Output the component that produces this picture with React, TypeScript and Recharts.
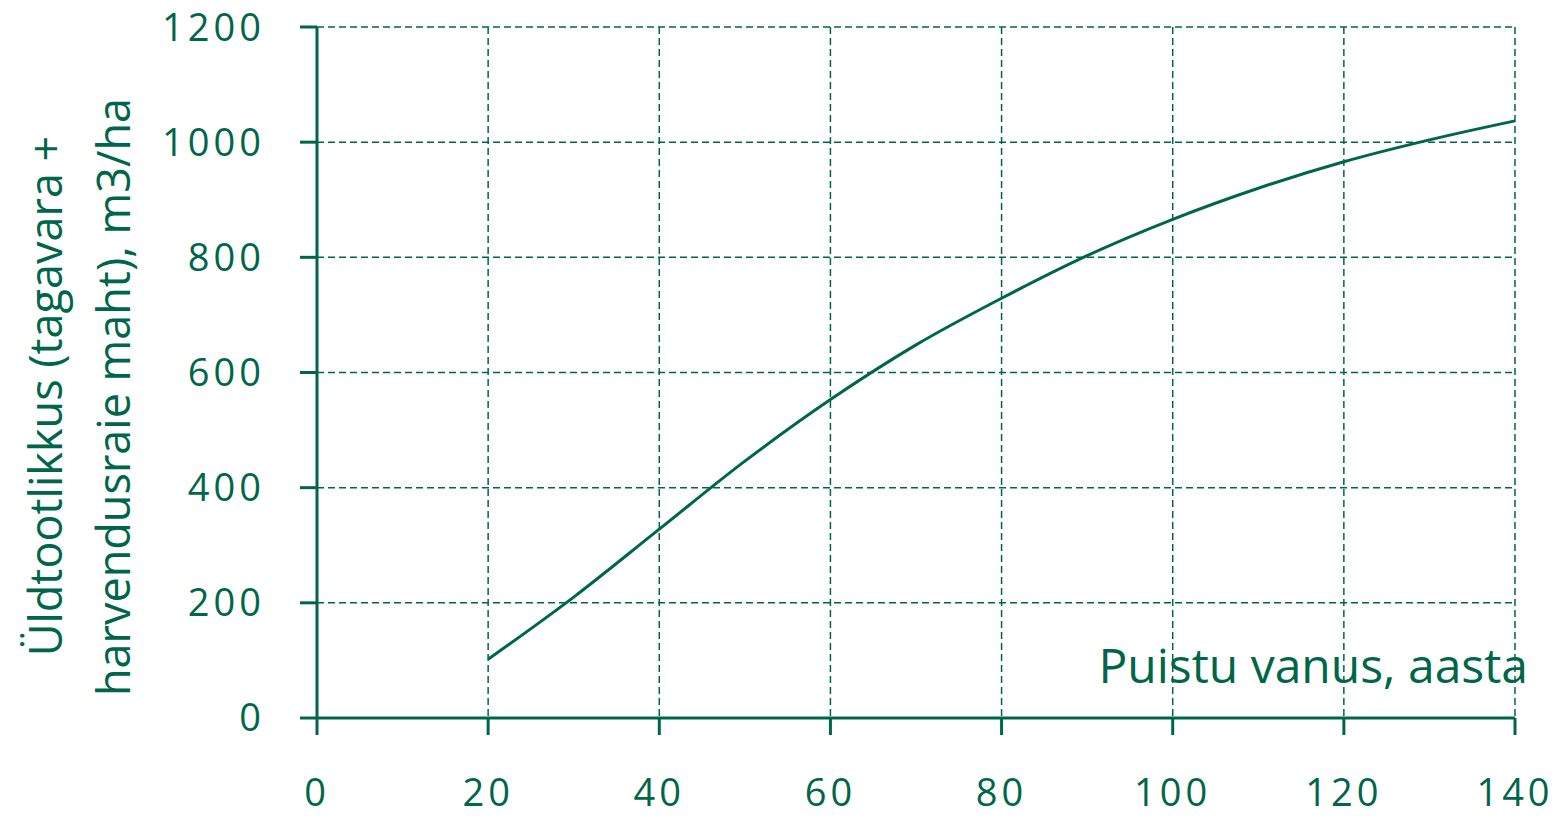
import { LineChart, Line, XAxis, YAxis, CartesianGrid } from 'recharts';

const GREEN = '#00664a';
const FONT = "'Open Sans', sans-serif";

const ages = [20, 30, 40, 50, 60, 70, 80, 90, 100, 110, 120, 130, 140];
const volumes = [102, 210, 328, 446, 553, 648, 729, 803, 866, 920, 966, 1004, 1037];
const xTicks = [0, 20, 40, 60, 80, 100, 120, 140];
const yTicks = [0, 200, 400, 600, 800, 1000, 1200];

const data = ages.map((a, i) => ({ age: a, volume: volumes[i] }));

const tickStyle = { fill: GREEN, fontSize: 38, fontFamily: FONT, fontWeight: 500, letterSpacing: 4 };

const YTitle = () => (
    <g fontFamily={FONT} fontSize={45} fontWeight={500} fill={GREEN}>
        <text transform="translate(62, 396) rotate(-90)" textAnchor="middle">Üldtootlikkus (tagavara +</text>
        <text transform="translate(130, 397) rotate(-90)" textAnchor="middle">harvendusraie maht), m3/ha</text>
    </g>
);

export default function App() {
    return (
        <div style={{ position: 'absolute', left: 0, top: 0, background: '#fff' }}>
            <LineChart width={1562} height={819} data={data} margin={{ top: 27, right: 47, left: 217, bottom: 41 }}>
                <CartesianGrid stroke={GREEN} strokeWidth={1.5} strokeDasharray="7 4" />
                <XAxis
                    dataKey="age"
                    type="number"
                    domain={[0, 140]}
                    ticks={xTicks}
                    height={60}
                    stroke={GREEN}
                    axisLine={{ stroke: GREEN, strokeWidth: 3 }}
                    tickLine={{ stroke: GREEN, strokeWidth: 3 }}
                    tickSize={17}
                    tickMargin={44}
                    tick={tickStyle}
                />
                <YAxis
                    type="number"
                    domain={[0, 1200]}
                    ticks={yTicks}
                    width={100}
                    stroke={GREEN}
                    axisLine={{ stroke: GREEN, strokeWidth: 3 }}
                    tickLine={{ stroke: GREEN, strokeWidth: 3 }}
                    tickSize={17}
                    tickMargin={35}
                    tick={tickStyle}
                    label={{ content: () => <YTitle /> }}
                />
                <Line
                    dataKey="volume"
                    type="monotone"
                    stroke={GREEN}
                    strokeWidth={3}
                    dot={false}
                    activeDot={false}
                    isAnimationActive={false}
                />
                <text x={1528} y={683} textAnchor="end" fontFamily={FONT} fontSize={48} fontWeight={500} fill={GREEN}>
                    Puistu vanus, aasta
                </text>
            </LineChart>
        </div>
    );
}
